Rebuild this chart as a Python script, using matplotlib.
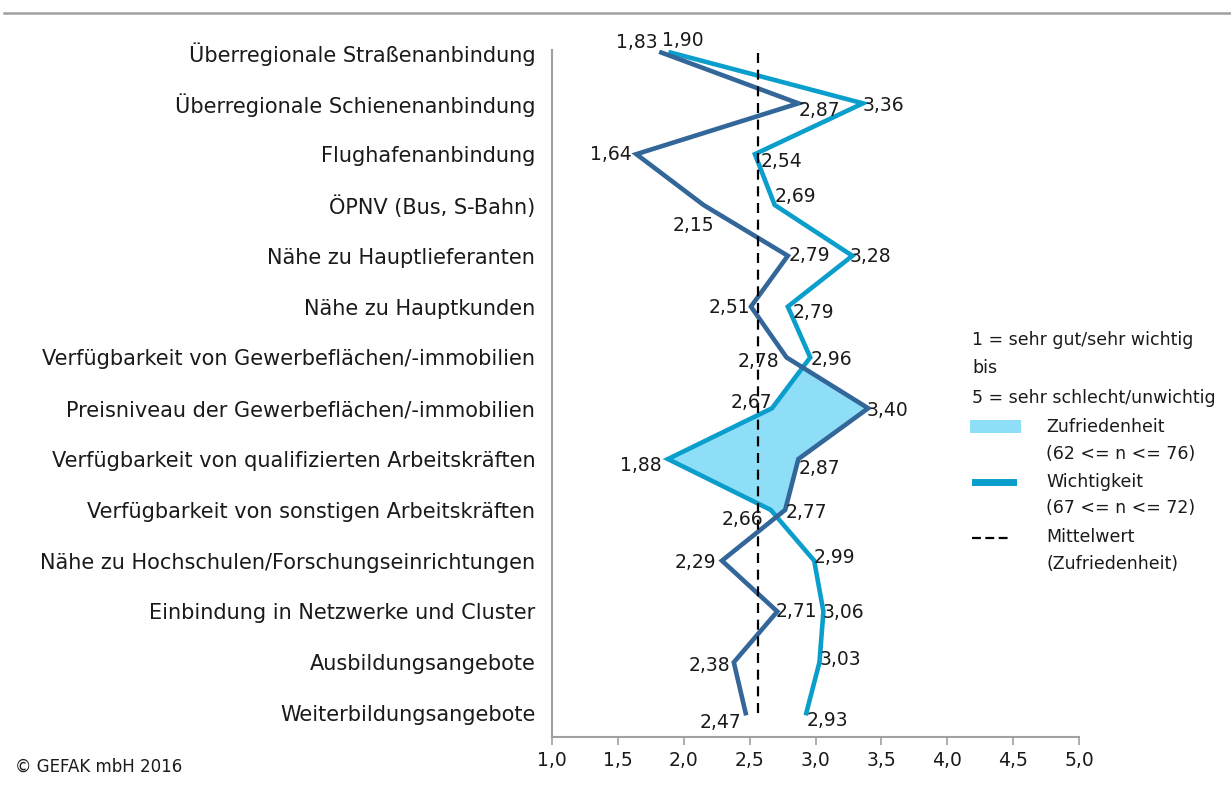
import matplotlib
matplotlib.use("Agg")
import matplotlib.pyplot as plt
from matplotlib.lines import Line2D
from matplotlib.patches import Rectangle

plt.rcParams['font.family'] = ['DejaVu Sans']

# data
kriterien = [
    "Überregionale Straßenanbindung",
    "Überregionale Schienenanbindung",
    "Flughafenanbindung",
    "ÖPNV (Bus, S-Bahn)",
    "Nähe zu Hauptlieferanten",
    "Nähe zu Hauptkunden",
    "Verfügbarkeit von Gewerbeflächen/-immobilien",
    "Preisniveau der Gewerbeflächen/-immobilien",
    "Verfügbarkeit von qualifizierten Arbeitskräften",
    "Verfügbarkeit von sonstigen Arbeitskräften",
    "Nähe zu Hochschulen/Forschungseinrichtungen",
    "Einbindung in Netzwerke und Cluster",
    "Ausbildungsangebote",
    "Weiterbildungsangebote",
]
zufriedenheit = [1.83, 2.87, 1.64, 2.15, 2.79, 2.51, 2.78, 3.40, 2.87, 2.77, 2.29, 2.71, 2.38, 2.47]
wichtigkeit = [1.90, 3.36, 2.54, 2.69, 3.28, 2.79, 2.96, 2.67, 1.88, 2.66, 2.99, 3.06, 3.03, 2.93]
mittelwert = 2.56
x_ticks = [1.0, 1.5, 2.0, 2.5, 3.0, 3.5, 4.0, 4.5, 5.0]

# label placement (offset in px, horizontal alignment)
off_z = [(-4, -10, 'right'), (0, 7, 'left'), (-5, 0, 'right'), (-10, 21, 'center'),
         (1, 0, 'left'), (-1, 1, 'right'), (-7, 4, 'right'), (-2, 2, 'left'),
         (0, 9, 'left'), (0, 3, 'left'), (-6, 2, 'right'), (-2, 0, 'left'),
         (-4, 3, 'right'), (-4, 9, 'right')]
off_w = [(-9, -12, 'left'), (0, 2, 'left'), (6, 7, 'left'), (0, -8, 'left'),
         (-3, 1, 'left'), (5, 6, 'left'), (0, 2, 'left'), (0, -6, 'right'),
         (-6, 6, 'right'), (-7, 10, 'right'), (-1, -3, 'left'), (-1, 1, 'left'),
         (0, -3, 'left'), (0, 7, 'left')]

W, H = 1231, 788
fig = plt.figure(figsize=(W / 100, H / 100), dpi=100)
ax = fig.add_axes([552 / W, 1 - 737 / H, (1079 - 552) / W, (737 - 50) / H])

y = list(range(len(kriterien)))
dark = '#336699'
light = '#0A9ECC'
fillc = '#8FDEF8'
txt = '#1a1a1a'

ax.fill_betweenx(y, wichtigkeit, zufriedenheit,
                 where=[z > w for z, w in zip(zufriedenheit, wichtigkeit)],
                 interpolate=True, color=fillc, lw=0, zorder=1)
ax.plot(wichtigkeit, y, color=light, lw=3.3, solid_joinstyle='miter', zorder=3)
ax.plot(zufriedenheit, y, color=dark, lw=3.3, solid_joinstyle='miter', zorder=4)
ax.plot([mittelwert, mittelwert], [0, 13], color='black', lw=1.6,
        dashes=(4.5, 3), zorder=5)

def fmt(v):
    return f"{v:.2f}".replace('.', ',')

for vals, offs in ((zufriedenheit, off_z), (wichtigkeit, off_w)):
    for i, v in enumerate(vals):
        dx, dy, ha = offs[i]
        ax.annotate(fmt(v), (v, i), xytext=(dx * 0.72, -dy * 0.72),
                    textcoords='offset points', ha=ha, va='center',
                    fontsize=13.5, color=txt, zorder=6)

ax.set_xlim(1.0, 5.0)
ax.set_ylim(13.47, -0.05)
ax.set_xticks(x_ticks)
ax.set_xticklabels([f"{t:.1f}".replace('.', ',') for t in x_ticks], fontsize=13.5, color=txt)
ax.set_yticks(y)
ax.set_yticklabels(kriterien, fontsize=15, color=txt)
ax.tick_params(axis='y', length=0, pad=12)
ax.tick_params(axis='x', length=6, width=1.2, color='#A0A0A0', pad=4)
for s in ('top', 'right'):
    ax.spines[s].set_visible(False)
for s in ('left', 'bottom'):
    ax.spines[s].set_color('#A0A0A0')
    ax.spines[s].set_linewidth(1.5)
ax.spines['left'].set_bounds(-0.05, 13.47)

# header rule
fig.add_artist(Line2D([4 / W, 1], [1 - 13 / H, 1 - 13 / H], color='#A0A0A0', lw=1.8))

# legend
def fx(px):
    return px / W

def fy(py):
    return 1 - py / H

ls = 12.5
fig.text(fx(972), fy(340), "1 = sehr gut/sehr wichtig", fontsize=ls, va='center', color=txt)
fig.text(fx(972), fy(368), "bis", fontsize=ls, va='center', color=txt)
fig.text(fx(972), fy(398), "5 = sehr schlecht/unwichtig", fontsize=ls, va='center', color=txt)
fig.add_artist(Rectangle((fx(970), fy(433)), fx(1021) - fx(970), fy(420) - fy(433),
                         transform=fig.transFigure, color=fillc, lw=0))
fig.text(fx(1046), fy(427), "Zufriedenheit", fontsize=ls, va='center', color=txt)
fig.text(fx(1046), fy(454), "(62 <= n <= 76)", fontsize=ls, va='center', color=txt)
fig.add_artist(Line2D([fx(975), fx(1013)], [fy(482), fy(482)], color=light, lw=5))
fig.text(fx(1046), fy(482), "Wichtigkeit", fontsize=ls, va='center', color=txt)
fig.text(fx(1046), fy(508), "(67 <= n <= 72)", fontsize=ls, va='center', color=txt)
fig.add_artist(Line2D([fx(972), fx(1012)], [fy(538), fy(538)], color='black', lw=1.6,
                      dashes=(4, 2)))
fig.text(fx(1046), fy(537), "Mittelwert", fontsize=ls, va='center', color=txt)
fig.text(fx(1046), fy(564), "(Zufriedenheit)", fontsize=ls, va='center', color=txt)

fig.text(fx(15), fy(767), "© GEFAK mbH 2016", fontsize=12, va='center', color=txt)

fig.savefig("out.png", dpi=100)
